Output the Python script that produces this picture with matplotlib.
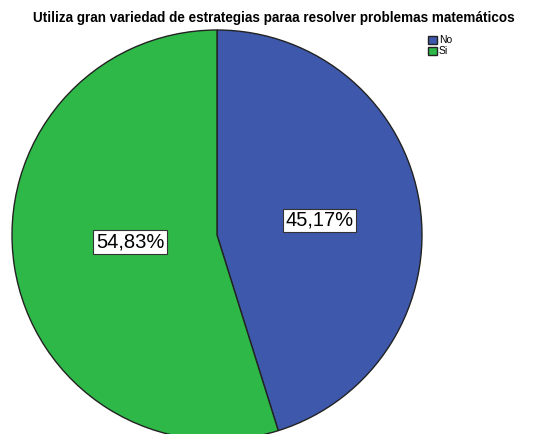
import matplotlib
matplotlib.use("Agg")
import matplotlib.pyplot as plt

categories = ["No", "Si"]
percentages = [45.17, 54.83]
colors = ["#3E58AC", "#2EB848"]
title = "Utiliza gran variedad de estrategias paraa resolver problemas matemáticos"

plt.rcParams["font.family"] = ["Liberation Sans", "DejaVu Sans"]

W, H = 540, 434
fig = plt.figure(figsize=(W / 100, H / 100), dpi=100)
fig.patch.set_facecolor("white")

# pie centre and radius in pixels
cx, cy, r = 217, 235, 205
ax = fig.add_axes([(cx - r) / W, 1 - (cy + r) / H, 2 * r / W, 2 * r / H])

wedges, _ = ax.pie(percentages, colors=colors, startangle=90, counterclock=False,
                   radius=1, wedgeprops=dict(edgecolor="#222222", linewidth=1.0),
                   frame=True)
ax.set_xlim(-1, 1)
ax.set_ylim(-1, 1)
ax.set_aspect("equal")
ax.axis("off")

label_pos = [(0.498, 0.071), (-0.424, -0.034)]
for p, (x, y) in zip(percentages, label_pos):
    ax.text(x, y, f"{p:.2f}%".replace(".", ","), ha="center", va="center",
            fontsize=14.5,
            bbox=dict(boxstyle="square,pad=0.12", facecolor="white",
                      edgecolor="#333333", linewidth=0.8))

fig.text(274 / W, 1 - 18 / H, title, ha="center", va="center",
         fontsize=9.75, fontweight="bold")

fig.legend(wedges, categories, loc="upper left",
           bbox_to_anchor=(421 / W, 1 - 28 / H), frameon=False,
           fontsize=7.5, handlelength=0.8, handleheight=0.8,
           handletextpad=0.2, labelspacing=0.1, borderpad=0.2)

fig.savefig("out.png", dpi=100)
